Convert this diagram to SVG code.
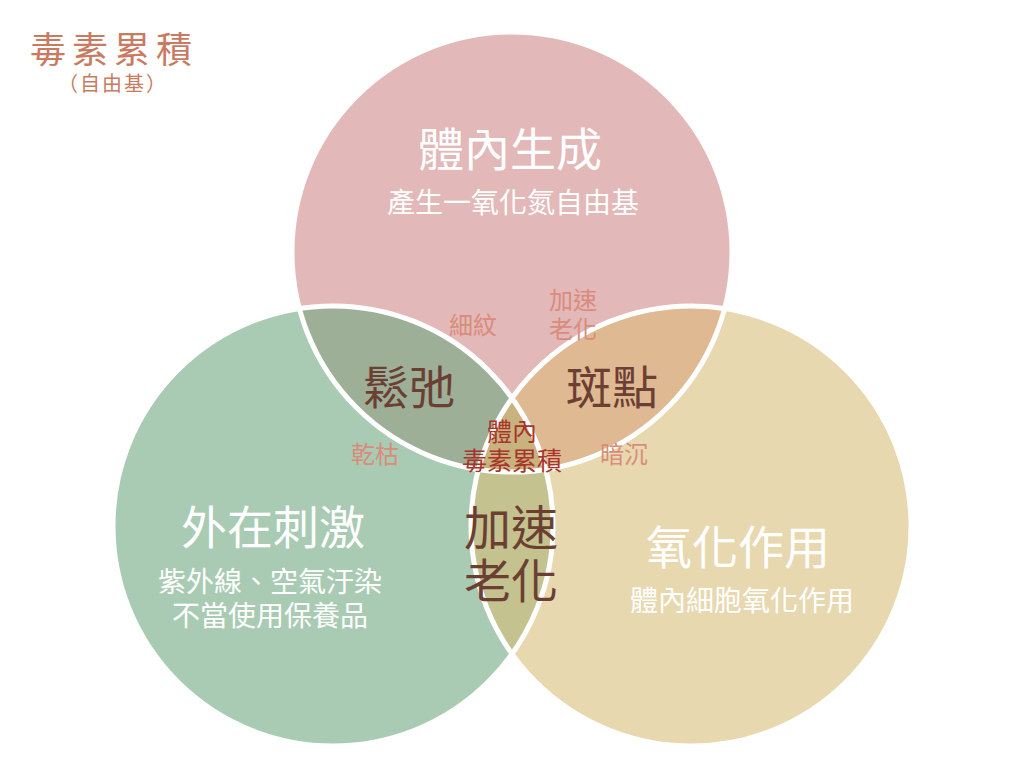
<svg xmlns="http://www.w3.org/2000/svg" width="1024" height="777" viewBox="0 0 1024 777">
<style>
text{font-family:"Noto Sans CJK TC","Noto Sans CJK SC",sans-serif;text-anchor:middle}
.w{fill:#fff}
.d{fill:#6b3f33}
.s{fill:#d98c7c;font-size:24px}
.ring{fill:none;stroke:#fff;stroke-width:5}
</style>
<defs>
<clipPath id="cT"><circle cx="512" cy="252" r="220"/></clipPath>
<clipPath id="cL"><circle cx="333" cy="526" r="220"/></clipPath>
<clipPath id="cR"><circle cx="691" cy="526" r="220"/></clipPath>
</defs>
<rect width="1024" height="777" fill="#fff"/>
<text x="114" y="63" style="font-size:36px;fill:#c97b62;letter-spacing:6px">毒素累積</text>
<text x="113" y="91" style="font-size:20px;fill:#c97b62;letter-spacing:2px">（自由基）</text>
<g id="top"><circle cx="512" cy="252" r="220" fill="#e3b8b8"/></g>
<g id="left"><circle cx="333" cy="526" r="220" fill="#a9cbb3"/></g>
<g id="right"><circle cx="691" cy="526" r="220" fill="#e8d8b0"/></g>
<g id="overlaps">
<g clip-path="url(#cT)"><circle cx="333" cy="526" r="220" fill="#9daf96"/><circle cx="691" cy="526" r="220" fill="#dfb992"/></g>
<g clip-path="url(#cL)"><circle cx="691" cy="526" r="220" fill="#c4c28f"/></g>
<g clip-path="url(#cT)"><g clip-path="url(#cL)"><circle cx="691" cy="526" r="220" fill="#c8b37f"/></g></g>
</g>
<g id="rings">
<circle class="ring" cx="512" cy="252" r="220"/>
<circle class="ring" cx="333" cy="526" r="220"/>
<circle class="ring" cx="691" cy="526" r="220"/>
</g>
<text class="w" x="510" y="166" style="font-size:46px">體內生成</text>
<text class="w" x="513" y="213" style="font-size:28px">產生一氧化氮自由基</text>
<text class="w" x="273" y="544" style="font-size:46px">外在刺激</text>
<text class="w" x="270" y="592" style="font-size:28px">紫外線、空氣汙染</text>
<text class="w" x="270" y="626" style="font-size:28px">不當使用保養品</text>
<text class="w" x="738" y="564" style="font-size:46px">氧化作用</text>
<text class="w" x="742" y="611" style="font-size:28px">體內細胞氧化作用</text>
<text class="d" x="409" y="404" style="font-size:46px">鬆弛</text>
<text class="d" x="612" y="404" style="font-size:46px">斑點</text>
<text class="d" x="511" y="545" style="font-size:47px">加速</text>
<text class="d" x="511" y="598" style="font-size:47px">老化</text>
<text x="512" y="441" style="font-size:25px;fill:#a8342c">體內</text>
<text x="512" y="470" style="font-size:25px;fill:#a8342c">毒素累積</text>
<text class="s" x="473" y="334">細紋</text>
<text class="s" x="573" y="309">加速</text>
<text class="s" x="573" y="338">老化</text>
<text class="s" x="375" y="463">乾枯</text>
<text class="s" x="624" y="463">暗沉</text>
</svg>
